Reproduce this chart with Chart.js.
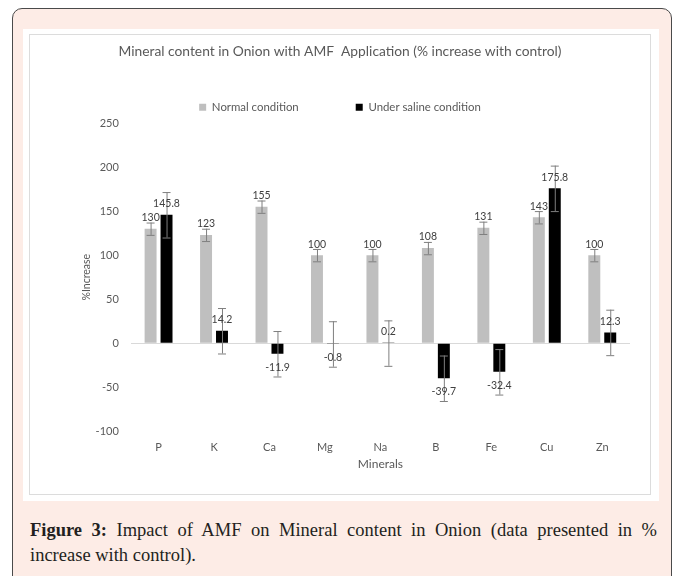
<!DOCTYPE html>
<html>
<head>
<meta charset="utf-8">
<script src="https://cdn.jsdelivr.net/npm/chart.js@4.4.1/dist/chart.umd.min.js"></script>
<style>
  body { margin: 0; background: #ffffff; width: 677px; height: 576px; overflow: hidden; position: relative; }
  .outer { position: absolute; left: 12px; top: 8px; width: 658px; height: 580px; border: 1.5px solid #4a4a4a; border-radius: 10px; background: #fdece6; }
  .panel { position: absolute; left: 23px; top: 29px; width: 636px; height: 472px; background: #ffffff; }
  .frame { position: absolute; left: 29px; top: 34px; width: 622px; height: 461px; box-sizing: border-box; border: 1px solid #dcdcdc; }
  .frame canvas { position: absolute; left: -1px; top: -1px; }
  .caption { position: absolute; left: 30px; top: 518px; width: 627px; font-family: "Liberation Serif", "DejaVu Serif", serif; font-size: 18.5px; line-height: 25px; color: #231f20; text-align: justify; text-align-last: left; }
  .caption b { font-weight: bold; }
</style>
</head>
<body>
<div class="outer"></div>
<div class="panel"></div>
<div class="frame"><canvas id="mineralChart" width="622" height="461"></canvas></div>
<div class="caption"><b>Figure 3:</b> Impact of AMF on Mineral content in Onion (data presented in % increase with control).</div>

<script>
// chart values
const categories = ['P', 'K', 'Ca', 'Mg', 'Na', 'B', 'Fe', 'Cu', 'Zn'];
const normalValues = [130, 123, 155, 100, 100, 108, 131, 143, 100];
const salineValues = [145.8, 14.2, -11.9, -0.8, 0.2, -39.7, -32.4, 175.8, 12.3];
const normalErrors = [7, 7, 7, 7, 7, 7, 7, 7, 7];
const salineErrors = [25.8, 25.8, 25.8, 25.8, 25.8, 25.8, 25.8, 25.8, 25.8];
const seriesNames = ['Normal condition', 'Under saline condition'];
const yMin = -100, yMax = 250, yStep = 50;

const FONT = 'Lato, "Open Sans", sans-serif';
const TEXT_GREY = '#595959';

// error bars + value labels, positioned from the bar elements and y scale
const errorBarsAndLabels = {
    id: 'errorBarsAndLabels',
    afterDatasetsDraw(chart) {
        const ctx = chart.ctx;
        const yScale = chart.scales.y;
        const errs = [normalErrors, salineErrors];
        ctx.save();
        chart.data.datasets.forEach((ds, di) => {
            const meta = chart.getDatasetMeta(di);
            meta.data.forEach((bar, i) => {
                const v = ds.data[i];
                const e = errs[di][i];
                const yHi = yScale.getPixelForValue(v + e);
                const yLo = yScale.getPixelForValue(v - e);
                ctx.strokeStyle = '#7f7f7f';
                ctx.lineWidth = 1;
                ctx.beginPath();
                ctx.moveTo(bar.x + 0.5, yHi);
                ctx.lineTo(bar.x + 0.5, yLo);
                ctx.moveTo(bar.x - 4, yHi + 0.5);
                ctx.lineTo(bar.x + 4, yHi + 0.5);
                ctx.moveTo(bar.x - 4, yLo + 0.5);
                ctx.lineTo(bar.x + 4, yLo + 0.5);
                ctx.stroke();
            });
        });
        // value labels on top
        ctx.font = '10.5px ' + FONT;
        ctx.fillStyle = '#404040';
        ctx.textAlign = 'center';
        ctx.textBaseline = 'middle';
        chart.data.datasets.forEach((ds, di) => {
            const meta = chart.getDatasetMeta(di);
            meta.data.forEach((bar, i) => {
                const v = ds.data[i];
                const yEnd = yScale.getPixelForValue(v);
                const y = v >= 0 ? yEnd - 11 : yEnd + 13.5;
                ctx.fillText(String(v), bar.x, y);
            });
        });
        ctx.restore();
    }
};

const ctx = document.getElementById('mineralChart').getContext('2d');
new Chart(ctx, {
    type: 'bar',
    data: {
        labels: categories,
        datasets: [{
            label: seriesNames[0],
            data: normalValues,
            backgroundColor: '#bfbfbf',
            categoryPercentage: 0.575,
            barPercentage: 0.75
        }, {
            label: seriesNames[1],
            data: salineValues,
            backgroundColor: '#000000',
            categoryPercentage: 0.575,
            barPercentage: 0.75
        }]
    },
    options: {
        responsive: false,
        animation: false,
        layout: { padding: { left: 21, right: 21, top: 0, bottom: 20 } },
        plugins: {
            title: {
                display: true,
                text: 'Mineral content in Onion with AMF  Application (% increase with control)',
                color: TEXT_GREY,
                font: { family: FONT, size: 13.8, weight: 'normal' },
                padding: { top: 9, bottom: -15 }
            },
            legend: {
                display: true,
                position: 'top',
                labels: {
                    color: TEXT_GREY,
                    font: { family: FONT, size: 11.4 },
                    boxWidth: 7,
                    boxHeight: 7,
                    padding: 57
                }
            },
            tooltip: { enabled: false }
        },
        scales: {
            x: {
                grid: { display: true, drawOnChartArea: false, drawTicks: true, tickLength: 6, color: 'transparent' },
                border: { display: false },
                ticks: { color: TEXT_GREY, font: { family: FONT, size: 11 }, padding: 3 },
                title: { display: true, text: 'Minerals', color: TEXT_GREY, font: { family: FONT, size: 12 }, padding: { top: 0, bottom: 4 } }
            },
            y: {
                min: yMin,
                max: yMax,
                grid: {
                    color: c => (c.tick && c.tick.value === 0 ? '#d9d9d9' : 'transparent'),
                    tickColor: 'transparent',
                    drawTicks: true,
                    tickLength: 9
                },
                border: { display: false },
                ticks: { stepSize: yStep, color: TEXT_GREY, font: { family: FONT, size: 11 }, padding: 3 },
                title: { display: true, text: '%Increase', color: TEXT_GREY, font: { family: FONT, size: 10.5 }, padding: { top: 30, bottom: 0 } }
            }
        }
    },
    plugins: [errorBarsAndLabels]
});
</script>
</body>
</html>
